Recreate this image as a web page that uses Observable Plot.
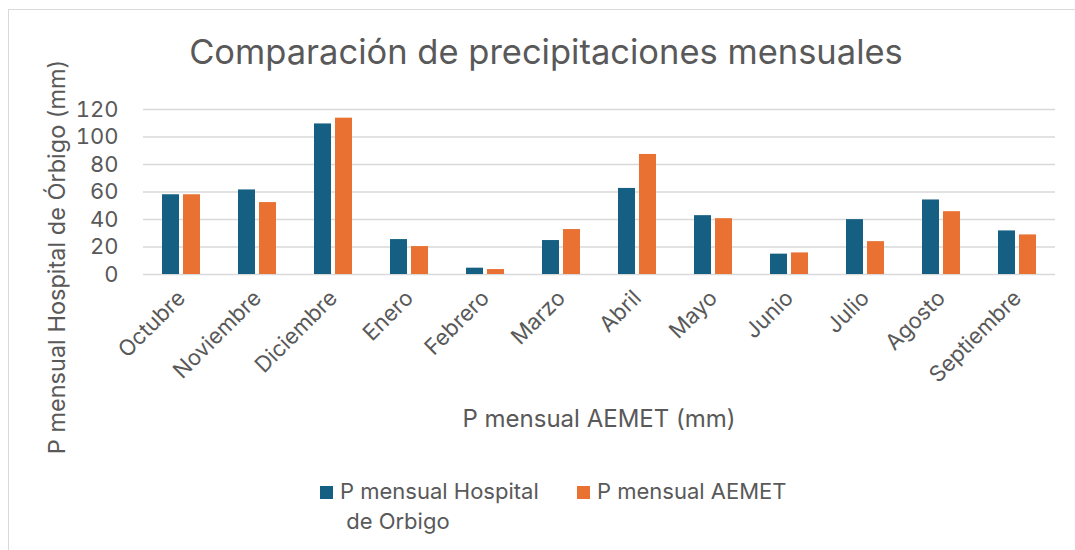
<!DOCTYPE html>
<html>
<head>
<meta charset="utf-8">
<script src="https://cdn.jsdelivr.net/npm/d3@7"></script>
<script src="https://cdn.jsdelivr.net/npm/@observablehq/plot@0.6"></script>
<style>
  html, body { margin: 0; padding: 0; background: #fff; }
  #wrap { position: relative; width: 1075px; height: 550px; overflow: hidden; font-family: Inter, "Noto Sans", sans-serif; color: #595959; }
  #frame { position: absolute; left: 8px; top: 9px; width: 1100px; height: 600px; border-left: 1.5px solid #d9d9d9; border-top: 1.5px solid #d9d9d9; }
  #chart { position: absolute; left: 0; top: 0; }
  .t { position: absolute; white-space: nowrap; line-height: 1; }
  #title { left: 546px; top: 35px; transform: translateX(-50%); font-size: 34.5px; }
  #ylab { left: 57px; top: 257px; transform: translate(-50%, -50%) rotate(-90deg); font-size: 23.5px; }
  #xlab { left: 599px; top: 407px; transform: translateX(-50%); font-size: 24px; }
  .sw { position: absolute; width: 13px; height: 13px; }
  .lg { position: absolute; font-size: 22px; line-height: 30px; white-space: nowrap; }
</style>
</head>
<body>
<div id="wrap">
  <div id="frame"></div>
  <div id="chart"></div>
  <div class="t" id="title">Comparación de precipitaciones mensuales</div>
  <div class="t" id="ylab">P mensual Hospital de Órbigo (mm)</div>
  <div class="t" id="xlab">P mensual AEMET (mm)</div>
  <div id="legend"></div>
</div>
<script>
const months = ["Octubre","Noviembre","Diciembre","Enero","Febrero","Marzo","Abril","Mayo","Junio","Julio","Agosto","Septiembre"];
const hospital = [58, 61.5, 109.5, 25.4, 4.6, 24.7, 62.6, 42.8, 14.8, 39.9, 54.2, 31.7];
const aemet = [58, 52.3, 113.7, 20.3, 3.6, 32.7, 87.3, 40.6, 15.7, 23.9, 45.7, 28.8];
const seriesNames = ["P mensual Hospital de Orbigo", "P mensual AEMET"];
const seriesColors = ["#156082", "#E97132"];
const yTicks = [0, 20, 40, 60, 80, 100, 120];

const data = months.flatMap((m, i) => [
  {month: m, series: seriesNames[0], value: hospital[i]},
  {month: m, series: seriesNames[1], value: aemet[i]}
]);

const chart = Plot.plot({
  width: 1075,
  height: 400,
  marginLeft: 143,
  marginRight: 20,
  marginTop: 109,
  marginBottom: 126,
  style: {fontFamily: "Inter, 'Noto Sans', sans-serif", color: "#595959", background: "transparent"},
  fx: {domain: months, padding: 0, label: null},
  x: {domain: seriesNames, paddingInner: 0.2, paddingOuter: 0.9, axis: null},
  y: {domain: [0, 120], label: null},
  color: {domain: seriesNames, range: seriesColors},
  marks: [
    Plot.gridY(yTicks, {stroke: "#d9d9d9", strokeOpacity: 1, strokeWidth: 1.5}),
    Plot.barY(data, {fx: "month", x: "series", y: "value", fill: "series"}),
    Plot.axisY(yTicks, {tickSize: 0, tickPadding: 25, fontSize: 22, color: "#595959", label: null}),
    Plot.axisFx({anchor: "bottom", tickRotate: -45, tickSize: 0, tickPadding: 20, fontSize: 22, color: "#595959", label: null})
  ]
});
document.getElementById("chart").appendChild(chart);

const legend = document.getElementById("legend");
const legendItems = [
  {x: 320, lines: ["P mensual Hospital", "de Orbigo"]},
  {x: 577, lines: ["P mensual AEMET"]}
];
legendItems.forEach((it, i) => {
  const sw = document.createElement("div");
  sw.className = "sw";
  sw.style.left = it.x + "px";
  sw.style.top = "486px";
  sw.style.background = seriesColors[i];
  legend.appendChild(sw);
  const tx = document.createElement("div");
  tx.className = "lg";
  tx.style.left = (it.x + 20) + "px";
  tx.style.top = "476px";
  tx.innerHTML = it.lines.map((l, j) => j === 0 ? l : "&nbsp;" + l).join("<br>");
  legend.appendChild(tx);
});
</script>
</body>
</html>
